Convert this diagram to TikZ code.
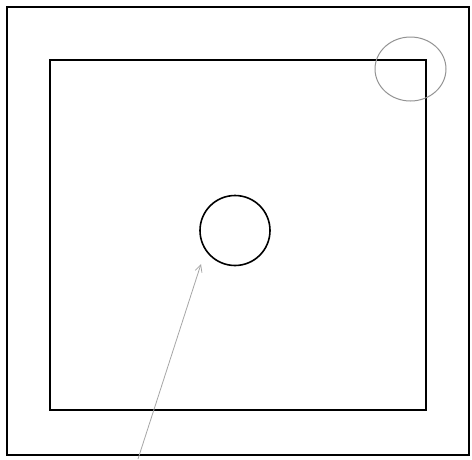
\documentclass[tikz,border=0pt]{standalone}
\usetikzlibrary{arrows.meta,shapes.geometric}
\begin{document}
\begin{tikzpicture}[x=1pt,y=-1pt,
  frame/.style={draw=black,line width=1.6pt},
  ring/.style={draw=black,line width=1.6pt,circle,minimum size=70pt,inner sep=0pt},
  markring/.style={draw=gray!85,line width=1pt,ellipse,minimum width=71pt,minimum height=64pt,inner sep=0pt},
  pointer/.style={draw=gray!70,line width=0.8pt,-{Straight Barb[length=7pt,width=7pt]}}]
\useasboundingbox (0,0) rectangle (472,459);
\fill[white] (0,0) rectangle (472,459);
\draw[frame] (7,7) rectangle (469,455);
\draw[frame] (50,60) rectangle (426,410);
\node[ring] (c) at (235,230.5) {};
\node[markring] (m) at (410.5,69) {};
\coordinate (tail) at (138,459);
\coordinate (tip) at (201,264);
\draw[pointer] (tail) -- (tip);
\end{tikzpicture}
\end{document}
